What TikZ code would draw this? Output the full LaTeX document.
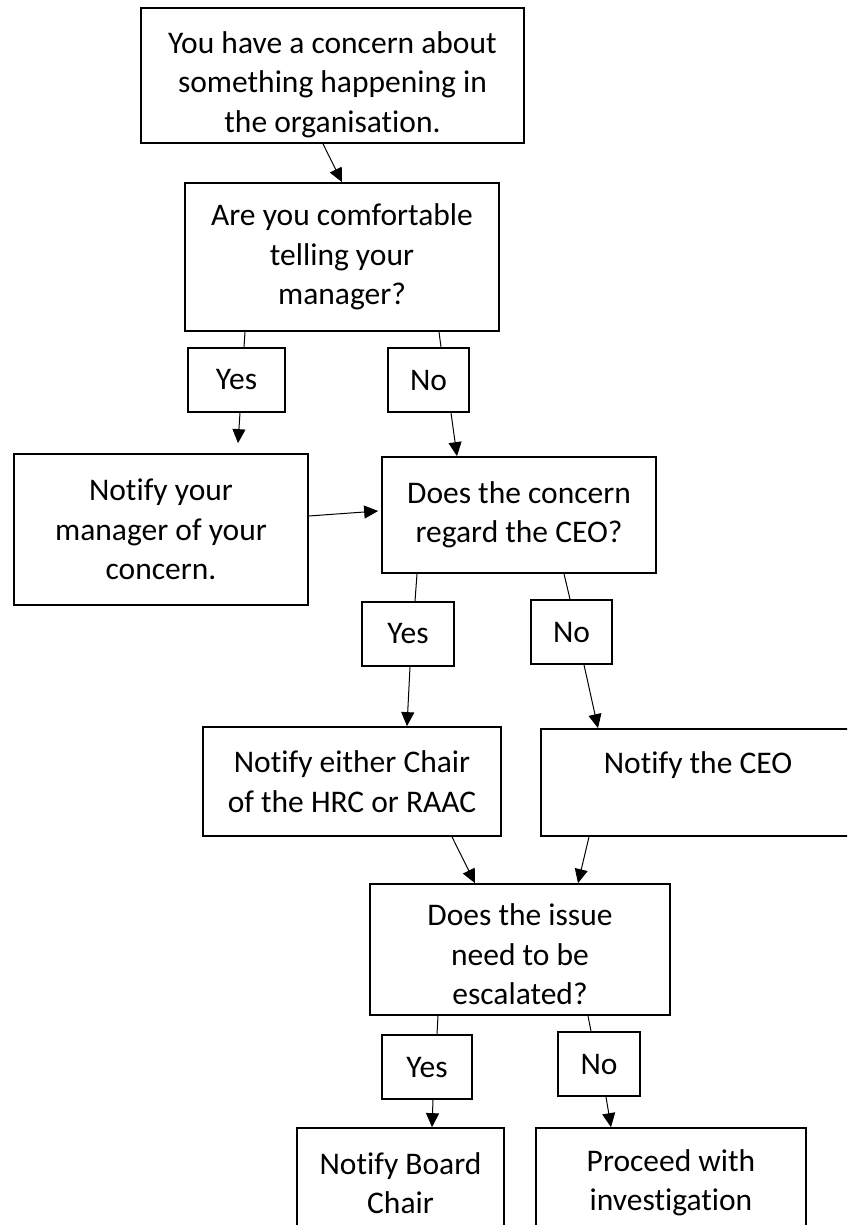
\documentclass[tikz,border=0pt]{standalone}
\usepackage{fontspec}
\setmainfont{Carlito}[Ligatures={NoCommon}]
\usetikzlibrary{arrows.meta}
\begin{document}
\begin{tikzpicture}[x=1pt,y=-1pt,
  box/.style={draw=black, line width=1.7pt, fill=white, inner sep=0pt, align=center,
    font=\fontsize{31.5}{39.5}\selectfont},
  txt/.style={inner sep=0pt, align=center, font=\fontsize{31.5}{39.5}\selectfont},
  conn/.style={draw=black, line width=1pt},
  arr/.style={conn, -{Triangle[length=14pt,width=13pt]}}]
\useasboundingbox (0,0) rectangle (847,1225);
\clip (0,0) rectangle (847,1225);
\fill[white] (0,0) rectangle (847,1225);
% boxes
\node[box, minimum width=383pt, minimum height=135pt] (b1) at (332.5,75.5) {};
\node[txt] (b1t) at ([yshift=-9pt]b1.center)
  {You have a concern about\\something happening in\\the organisation.};
\node[box, minimum width=314pt, minimum height=148pt] (b2) at (342,257)
  {Are you comfortable\\telling your\\manager?};
\node[box, minimum width=97pt, minimum height=64pt] (y1) at (236.5,380) {Yes};
\node[box, minimum width=81pt, minimum height=64pt] (n1) at (428.5,380) {No};
\node[box, minimum width=294pt, minimum height=151pt] (b3) at (161,529.5)
  {Notify your\\manager of your\\concern.};
\node[box, minimum width=274pt, minimum height=116pt] (b4) at (519,515)
  {Does the concern\\regard the CEO?};
\node[box, minimum width=92pt, minimum height=64pt] (y2) at (408,634) {Yes};
\node[box, minimum width=81pt, minimum height=64pt] (n2) at (571.5,632) {No};
\node[box, minimum width=298pt, minimum height=109pt] (b5) at (352,781.5)
  {Notify either Chair\\of the HRC or RAAC};
\node[box, minimum width=314pt, minimum height=107pt] (b6) at (698,782.5)
  {Notify the CEO\\\mbox{}};
\node[box, minimum width=300pt, minimum height=131pt] (b7) at (520,949.5) {};
\node[txt] (b7t) at ([yshift=-5pt]b7.center)
  {Does the issue\\need to be\\escalated?};
\node[box, minimum width=90pt, minimum height=64pt] (y3) at (427,1067) {Yes};
\node[box, minimum width=82pt, minimum height=64pt] (n3) at (599,1064) {No};
\node[box, minimum width=207pt, minimum height=110pt] (b8) at (400.5,1183)
  {Notify Board\\Chair};
\node[box, minimum width=270pt, minimum height=110pt] (b9) at (671,1183)
  {Proceed with\\investigation};
% connectors
\draw[arr] ([xshift=-9.5pt]b1.south) -- (b2.north);
\draw[conn] ([xshift=-97pt]b2.south) -- ([xshift=7.5pt]y1.north);
\draw[arr] ([xshift=3.5pt]y1.south) -- ([xshift=77pt,yshift=10pt]b3.north);
\draw[conn] ([xshift=97pt]b2.south) -- ([xshift=12.5pt]n1.north);
\draw[arr] ([xshift=22.5pt]n1.south) -- ([xshift=-62pt]b4.north);
\draw[arr] ([yshift=13.5pt]b3.east) -- ([xshift=-3pt,yshift=4pt]b4.west);
\draw[conn] ([xshift=-102pt]b4.south) -- ([xshift=7pt]y2.north);
\draw[conn] ([xshift=45pt]b4.south) -- ([xshift=-1.5pt]n2.north);
\draw[arr] ([xshift=2pt]y2.south) -- ([xshift=55pt]b5.north);
\draw[arr] ([xshift=12.5pt]n2.south) -- ([xshift=-100pt]b6.north);
\draw[arr] ([xshift=100pt]b5.south) -- ([xshift=-45pt]b7.north);
\draw[arr] ([xshift=-109pt]b6.south) -- ([xshift=58pt]b7.north);
\draw[conn] ([xshift=-82pt]b7.south) -- ([xshift=10pt]y3.north);
\draw[conn] ([xshift=68pt]b7.south) -- ([xshift=-8pt]n3.north);
\draw[arr] ([xshift=6pt]y3.south) -- ([xshift=31.5pt]b8.north);
\draw[arr] ([xshift=7pt]n3.south) -- ([xshift=-60pt]b9.north);
\end{tikzpicture}
\end{document}
